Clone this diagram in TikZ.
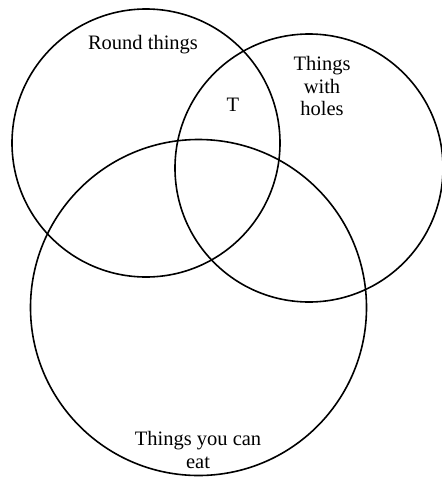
\documentclass[tikz,border=0pt]{standalone}
\usepackage{fontspec}
\setmainfont{Liberation Serif}
\begin{document}
\begin{tikzpicture}[x=1pt,y=-1pt,
  setcircle/.style={draw=black,line width=1.6pt},
  lbl/.style={font=\fontsize{20.5}{22.5}\selectfont,align=center,inner sep=0pt}]
\useasboundingbox (0,0) rectangle (442,477);
\draw[setcircle] (146,143) circle (134);
\draw[setcircle] (309,168) circle (134);
\draw[setcircle] (198.5,307.5) circle (168);
\node[lbl] (round) at (143,45) {Round things};
\node[lbl] (holes) at (322,86) {Things\\with\\holes};
\node[lbl] (t) at (233,105) {T};
\node[lbl] (eat) at (198,450) {Things you can\\eat};
\end{tikzpicture}
\end{document}
